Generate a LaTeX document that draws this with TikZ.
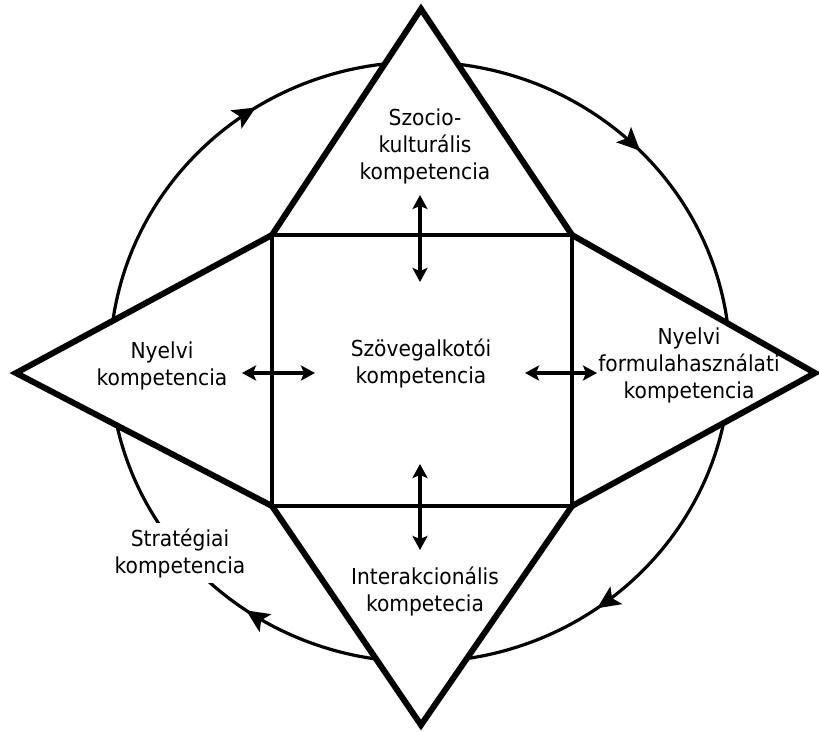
\documentclass[tikz,border=0pt]{standalone}
\usepackage{fontspec}
\setmainfont{DejaVu Sans}[FakeStretch=0.92]
\usepackage{tikz}
\usetikzlibrary{arrows.meta,decorations.markings}
\tikzset{
  ring/.style={line width=3.2pt,postaction={decorate},
    decoration={markings,
      mark=at position 0.127 with {\arrow{Stealth[length=23pt,width=21pt,inset=5pt]}},
      mark=at position 0.402 with {\arrow{Stealth[length=23pt,width=21pt,inset=5pt]}},
      mark=at position 0.596 with {\arrow{Stealth[length=23pt,width=21pt,inset=5pt]}},
      mark=at position 0.910 with {\arrow{Stealth[length=23pt,width=21pt,inset=5pt]}}}},
  tri/.style={line width=6pt,fill=white},
  sqline/.style={line width=4.5pt},
  dar/.style={{Stealth[length=14pt,width=15pt,inset=3pt]}-{Stealth[length=14pt,width=15pt,inset=3pt]},line width=3.4pt},
  lbl/.style={align=center,inner sep=2pt,font=\fontsize{22}{27}\selectfont}
}
\begin{document}
\begin{tikzpicture}[x=1pt,y=1pt]
\useasboundingbox (-422,-361) rectangle (397,370);
% square corners and apexes
\coordinate (nw) at (-150,135);
\coordinate (ne) at (150,135);
\coordinate (sw) at (-150,-136);
\coordinate (se) at (150,-136);
\coordinate (ta) at (-1,361);
\coordinate (ba) at (-1,-355);
\coordinate (la) at (-406,-3);
\coordinate (ra) at (393,-3);
\coordinate (ctr) at (-2,8);
% cycle
\draw[ring] ([yshift=300pt]ctr) arc[start angle=90,end angle=-270,x radius=310pt,y radius=300pt];
% triangles
\draw[tri] (nw) -- (ta) -- (ne);
\draw[tri] (sw) -- (ba) -- (se);
\draw[tri] (nw) -- (la) -- (sw);
\draw[tri] (ne) -- (ra) -- (se);
\draw[sqline] (nw) rectangle (se);
% labels
\node[lbl] (szoc) at (3,224) {Szocio-\\kulturális\\kompetencia};
\node[lbl] (szov) at (-1,7) {Szövegalkotói\\kompetencia};
\node[lbl] (nyel) at (-260,4) {Nyelvi\\kompetencia};
\node[lbl] (form) at (267,5) {Nyelvi\\formulahasználati\\kompetencia};
\node[lbl] (inter) at (3,-221) {Interakcionális\\kompetecia};
\node[lbl,fill=white,inner sep=5pt] (strat) at (-242,-183) {Stratégiai\\kompetencia};
% double arrows
\coordinate (t1) at (-2,175);
\coordinate (t2) at (-2,88);
\coordinate (b1) at (-2,-94);
\coordinate (b2) at (-2,-180);
\coordinate (l1) at (-180,-3);
\coordinate (l2) at (-107,-3);
\coordinate (r1) at (103,-3);
\coordinate (r2) at (175,-3);
\draw[dar] (t1) -- (t2);
\draw[dar] (b1) -- (b2);
\draw[dar] (l1) -- (l2);
\draw[dar] (r1) -- (r2);
\end{tikzpicture}
\end{document}
